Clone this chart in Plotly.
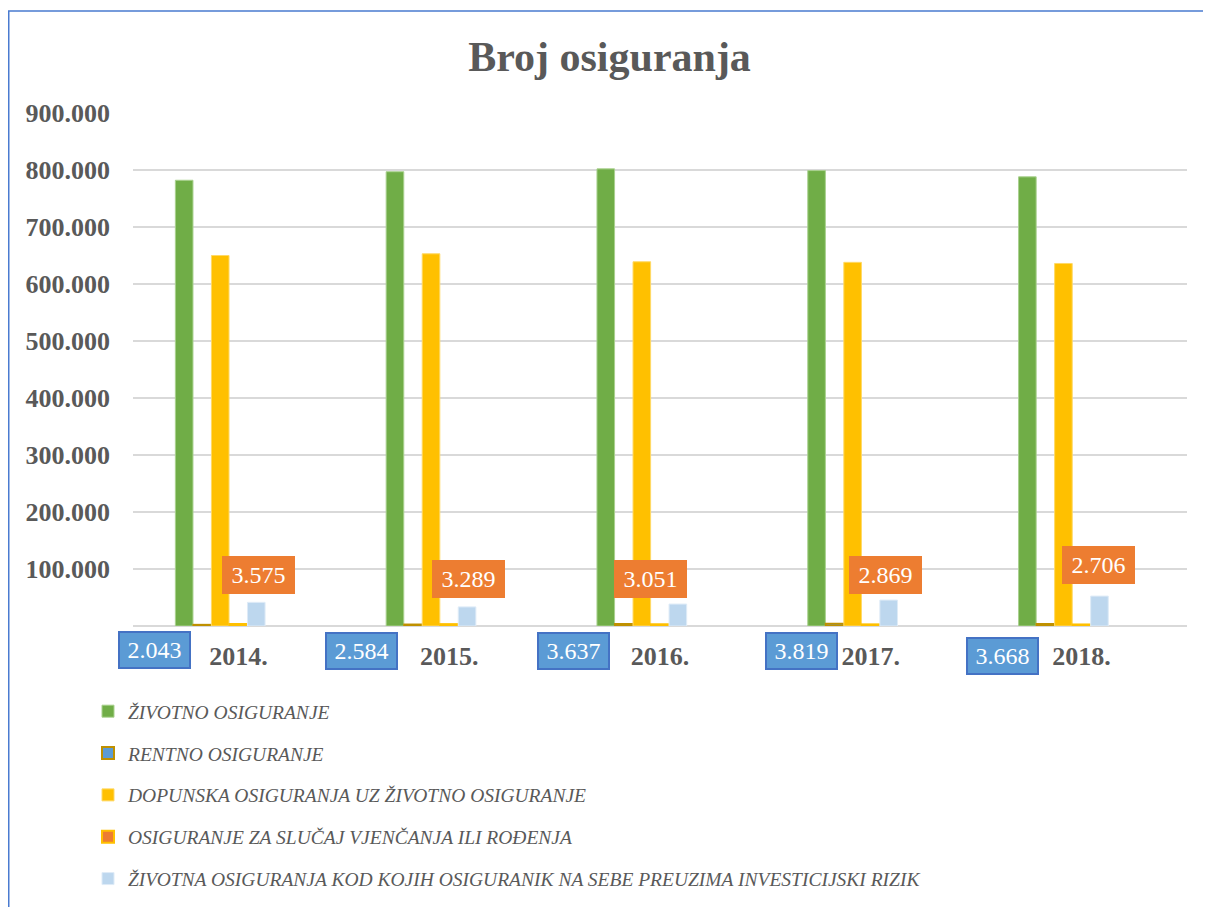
import plotly.graph_objects as go

categories = ["2014.", "2015.", "2016.", "2017.", "2018."]
series_names = [
    "ŽIVOTNO OSIGURANJE",
    "RENTNO OSIGURANJE",
    "DOPUNSKA OSIGURANJA UZ ŽIVOTNO OSIGURANJE",
    "OSIGURANJE ZA SLUČAJ VJENČANJA ILI ROĐENJA",
    "ŽIVOTNA OSIGURANJA KOD KOJIH OSIGURANIK NA SEBE PREUZIMA INVESTICIJSKI RIZIK",
]
zivotno = [782000, 797000, 802000, 799000, 788000]
rentno = [2043, 2584, 3637, 3819, 3668]
dopunska = [650000, 653000, 639000, 638000, 636000]
vjencanje = [3575, 3289, 3051, 2869, 2706]
investicijski = [41500, 33500, 38500, 45500, 52500]

y_tickvals = [100000, 200000, 300000, 400000, 500000, 600000, 700000, 800000, 900000]
y_ticktext = ["100.000", "200.000", "300.000", "400.000", "500.000",
              "600.000", "700.000", "800.000", "900.000"]

def fmt(v):
    return f"{v:,}".replace(",", ".")

fills = ["#70AD47", "#5B9BD5", "#FFC000", "#ED7D31", "#BDD7EE"]
edges = ["#A9D18E", "#BF9000", "#FFD966", "#FFC000", "#DEEBF7"]
edge_w = [1, 2, 1, 2, 1]
offsets = [-0.299, -0.2136, -0.128, -0.043, 0.043]
bar_w = 0.0835
data = [zivotno, rentno, dopunska, vjencanje, investicijski]

W, H = 1203, 899
L, R, T, B = 125, 24, 105, 281
PW, PH = W - L - R, H - T - B

fig = go.Figure()
for i, (name, vals) in enumerate(zip(series_names, data)):
    fig.add_trace(go.Bar(
        x=categories, y=vals, name=name,
        marker=dict(color=fills[i], line=dict(color=edges[i], width=edge_w[i])),
        offset=offsets[i], width=bar_w,
        legendgroup=f"g{i}",
        hoverinfo="y+name",
    ))

# label positions (pixel shifts relative to category centre at zero)
orange_shift = [(20, 51), (19, 47), (-10, 47), (15, 51), (17, 61)]
blue_shift = [(-84, -24), (-88, -25), (-87, -25), (-69, -25), (-79, -30)]

annotations = []
for idx, (v, (dx, dy)) in enumerate(zip(vjencanje, orange_shift)):
    annotations.append(dict(
        x=idx, y=0, xref="x", yref="y", xshift=dx, yshift=dy,
        text=fmt(v), showarrow=False,
        font=dict(family="Liberation Serif", size=24, color="white"),
        bgcolor="#ED7D31", bordercolor="#ED7D31", borderwidth=1,
        width=69, height=34, align="center", valign="middle",
    ))
for idx, (v, (dx, dy)) in enumerate(zip(rentno, blue_shift)):
    annotations.append(dict(
        x=idx, y=0, xref="x", yref="y", xshift=dx, yshift=dy,
        text=fmt(v), showarrow=False,
        font=dict(family="Liberation Serif", size=24, color="white"),
        bgcolor="#5B9BD5", bordercolor="#4472C4", borderwidth=2,
        width=67, height=32, align="center", valign="middle",
    ))

fig.update_layout(
    width=W, height=H,
    margin=dict(l=L, r=R, t=T, b=B, autoexpand=False),
    paper_bgcolor="white", plot_bgcolor="white",
    barmode="group",
    title=dict(text="<b>Broj osiguranja</b>", x=0.5, xanchor="center",
               y=1 - 48 / H, yanchor="middle",
               font=dict(family="Liberation Serif", size=42, color="#595959")),
    xaxis=dict(
        type="category", range=[-0.5, 4.5], showgrid=False, zeroline=False,
        showline=False, ticks="",
        tickfont=dict(family="Liberation Serif", size=26, color="#595959", weight="bold"),
        ticklabelstandoff=12,
    ),
    yaxis=dict(
        range=[0, 900000], tickvals=y_tickvals, ticktext=y_ticktext,
        showgrid=True, gridcolor="#D9D9D9", gridwidth=1.5,
        zeroline=True, zerolinecolor="#D9D9D9", zerolinewidth=2,
        showline=False, ticks="",
        tickfont=dict(family="Liberation Serif", size=26, color="#595959", weight="bold"),
        ticklabelstandoff=22,
    ),
    legend=dict(
        orientation="v", xref="container", yref="container",
        x=80 / W, xanchor="left", y=1 - 684 / H, yanchor="top",
        font=dict(family="Liberation Serif", size=19.5, color="#595959", style="italic"),
        tracegroupgap=13.5, bgcolor="rgba(0,0,0,0)", itemwidth=30,
    ),
    annotations=annotations,
    shapes=[dict(
        type="rect", xref="paper", yref="paper",
        x0=(0.75 - L) / PW, x1=(1197 - L) / PW,
        y0=(PH + T - H - 20) / PH, y1=(PH + T - 3) / PH,
        line=dict(color="#4A7BD0", width=1.5), fillcolor="rgba(0,0,0,0)",
        layer="below",
    )],
    showlegend=True,
)

fig.write_html("out.html")
